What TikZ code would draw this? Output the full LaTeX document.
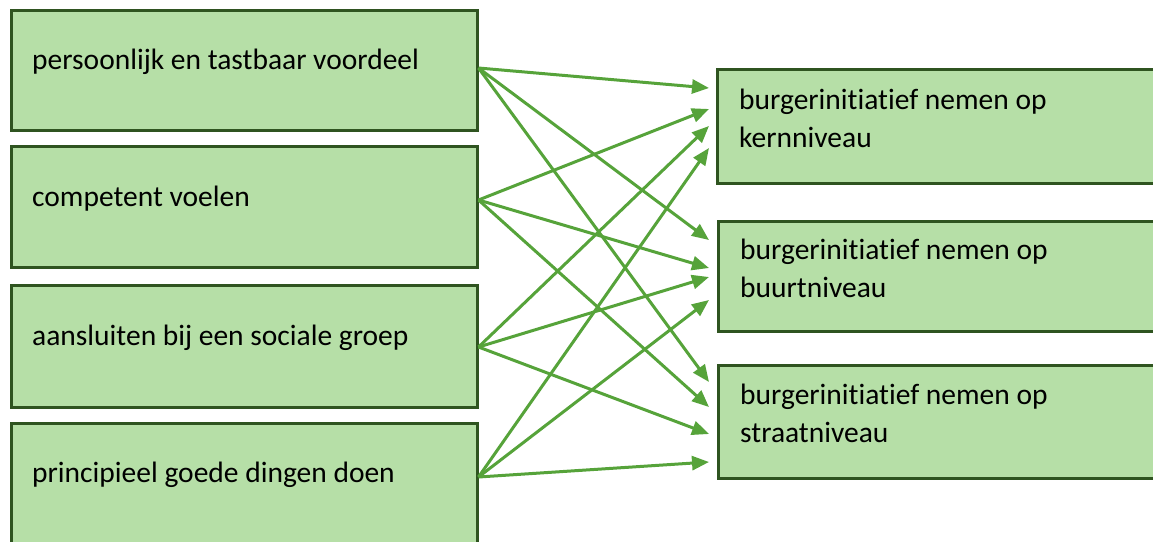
\documentclass[tikz,border=0pt]{standalone}
\usepackage{fontspec}
\setmainfont{Carlito}[Ligatures=NoCommon]
\usetikzlibrary{arrows.meta}
\definecolor{boxfill}{RGB}{182,223,167}
\definecolor{boxline}{RGB}{47,84,32}
\definecolor{arrowgreen}{RGB}{86,163,58}
\tikzset{
  boxnode/.style={draw=boxline, fill=boxfill, line width=3pt, rectangle, inner sep=0pt},
  lbox/.style={boxnode, minimum width=466pt},
  rbox/.style={boxnode, minimum width=443pt},
  txt/.style={anchor=base west, inner sep=0pt, font=\fontsize{29.5}{38}\selectfont, align=left, text=black},
  link/.style={draw=arrowgreen, line width=3pt, -{Triangle[length=17pt,width=14pt]}}
}
\begin{document}
\begin{tikzpicture}[x=1pt,y=-1pt]
\useasboundingbox (0,0) rectangle (1153,541);
\clip (0,0) rectangle (1153,541);
% left boxes
\node[lbox, minimum height=120pt] (L1) at (244,70) {};
\node[lbox, minimum height=121pt] (L2) at (244,206.5) {};
\node[lbox, minimum height=122pt] (L3) at (244,346) {};
\node[lbox, minimum height=137pt] (L4) at (244,491.5) {};
% right boxes
\node[rbox, minimum height=114pt] (R1) at (939,126) {};
\node[rbox, minimum height=110pt] (R2) at (939.5,276) {};
\node[rbox, minimum height=113pt] (R3) at (939.5,421.5) {};
% texts
\node[txt] (tL1) at (32,69) {persoonlijk en tastbaar voordeel};
\node[txt] (tL2) at (32,206) {competent voelen};
\node[txt] (tL3) at (32,345) {aansluiten bij een sociale groep};
\node[txt] (tL4) at (32,482) {principieel goede dingen doen};
\node[txt] (tR1) at (739,147) {burgerinitiatief nemen op\\kernniveau};
\node[txt] (tR2) at (740,297) {burgerinitiatief nemen op\\buurtniveau};
\node[txt] (tR3) at (740,442) {burgerinitiatief nemen op\\straatniveau};
% source points on left boxes
\coordinate (s1) at (478.5,68);
\coordinate (s2) at (478.5,200);
\coordinate (s3) at (478.5,347);
\coordinate (s4) at (478.5,477);
% arrow tips near right boxes
\coordinate (k1) at (709,88);
\coordinate (k2) at (709,109);
\coordinate (k3) at (709,126);
\coordinate (k4) at (709,148);
\coordinate (b1) at (709,240);
\coordinate (b2) at (709,268);
\coordinate (b3) at (709,277);
\coordinate (b4) at (709,300);
\coordinate (q1) at (709,382);
\coordinate (q2) at (709,407);
\coordinate (q3) at (709,434);
\coordinate (q4) at (709,462);
% connectors
\draw[link] (s1) -- (k1);
\draw[link] (s1) -- (b1);
\draw[link] (s1) -- (q1);
\draw[link] (s2) -- (k2);
\draw[link] (s2) -- (b2);
\draw[link] (s2) -- (q2);
\draw[link] (s3) -- (k3);
\draw[link] (s3) -- (b3);
\draw[link] (s3) -- (q3);
\draw[link] (s4) -- (k4);
\draw[link] (s4) -- (b4);
\draw[link] (s4) -- (q4);
\end{tikzpicture}
\end{document}
